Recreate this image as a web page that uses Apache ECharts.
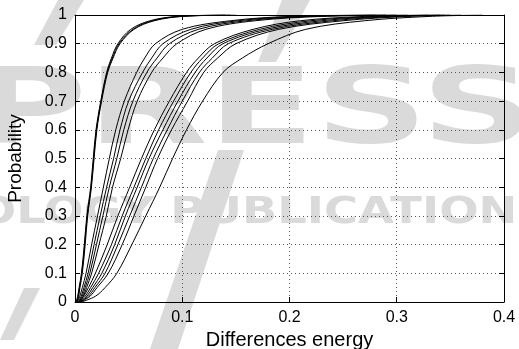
<!DOCTYPE html>
<html>
<head>
<meta charset="utf-8">
<script src="https://cdn.jsdelivr.net/npm/echarts@6/dist/echarts.min.js"></script>
<style>
  html, body { margin: 0; padding: 0; background: #fff; }
  #chart { width: 519px; height: 349px; }
</style>
</head>
<body>
<div id="chart"></div>
<script>
// probability levels shared by every curve
const probLevels = [0, 0.02, 0.05, 0.1, 0.2, 0.3, 0.4, 0.5, 0.6, 0.7, 0.8, 0.85, 0.9, 0.95, 0.98, 0.995, 1]

// difference energy reached at each probability level
const curveA1 = [0.001, 0.0025, 0.0038, 0.006, 0.0087, 0.011, 0.0146, 0.017, 0.0196, 0.024, 0.0295, 0.034, 0.040, 0.052, 0.070, 0.095, 0.14]
const curveA2 = [0.0015, 0.003, 0.0042, 0.0064, 0.009, 0.0114, 0.015, 0.0174, 0.020, 0.0244, 0.030, 0.0348, 0.041, 0.054, 0.072, 0.098, 0.145]
const curveA3 = [0.002, 0.0034, 0.0046, 0.0068, 0.0095, 0.0118, 0.0153, 0.0178, 0.0204, 0.0248, 0.0305, 0.0355, 0.042, 0.055, 0.074, 0.10, 0.15]
const curveB1 = [0.002, 0.0045, 0.0068, 0.0103, 0.0155, 0.021, 0.0265, 0.032, 0.038, 0.046, 0.0575, 0.065, 0.075, 0.10, 0.145, 0.20, 0.28]
const curveB2 = [0.003, 0.0058, 0.0083, 0.0122, 0.0178, 0.0235, 0.0295, 0.036, 0.042, 0.050, 0.063, 0.0715, 0.082, 0.108, 0.152, 0.21, 0.29]
const curveB3 = [0.0035, 0.0068, 0.0095, 0.0138, 0.020, 0.026, 0.032, 0.039, 0.0455, 0.054, 0.067, 0.0765, 0.088, 0.115, 0.16, 0.22, 0.30]
const curveB4 = [0.004, 0.0078, 0.0108, 0.0155, 0.0224, 0.0292, 0.035, 0.0426, 0.0495, 0.058, 0.0715, 0.082, 0.095, 0.122, 0.168, 0.23, 0.31]
const curveC1 = [0.003, 0.008, 0.0125, 0.019, 0.030, 0.040, 0.051, 0.062, 0.074, 0.088, 0.104, 0.115, 0.130, 0.166, 0.21, 0.27, 0.33]
const curveC2 = [0.0035, 0.0095, 0.0145, 0.022, 0.034, 0.044, 0.055, 0.066, 0.078, 0.092, 0.108, 0.119, 0.134, 0.172, 0.22, 0.28, 0.34]
const curveC3 = [0.004, 0.011, 0.0165, 0.025, 0.037, 0.047, 0.058, 0.069, 0.082, 0.096, 0.112, 0.123, 0.138, 0.178, 0.23, 0.29, 0.345]
const curveC4 = [0.0045, 0.0125, 0.0185, 0.028, 0.040, 0.051, 0.062, 0.073, 0.086, 0.100, 0.116, 0.128, 0.143, 0.184, 0.24, 0.30, 0.35]
const curveC5 = [0.005, 0.014, 0.0205, 0.031, 0.044, 0.055, 0.066, 0.077, 0.090, 0.105, 0.120, 0.133, 0.150, 0.190, 0.25, 0.31, 0.36]
const curveE = [0.006, 0.019, 0.028, 0.039, 0.053, 0.066, 0.079, 0.091, 0.104, 0.119, 0.138, 0.156, 0.180, 0.215, 0.27, 0.33, 0.38]

const curves = [curveA1, curveA2, curveA3, curveB1, curveB2, curveB3, curveB4,
  curveC1, curveC2, curveC3, curveC4, curveC5, curveE]

const font = 'Liberation Sans, Arial, sans-serif'
const wmColor = '#dadada'

const chart = echarts.init(document.getElementById('chart'))

const axisCommon = {
  type: 'value',
  axisLine: { show: true, onZero: false, lineStyle: { color: '#000', width: 1 } },
  axisTick: { show: true, inside: true, length: 5, lineStyle: { color: '#000' } }
}

chart.setOption({
  animation: false,
  backgroundColor: '#fff',
  textStyle: { fontFamily: font },
  graphic: [
    // faint publisher watermark behind the plot
    { type: 'polygon', z: -10, shape: { points: [[282, 0], [310, 0], [276, 62], [258, 62]] }, style: { fill: wmColor } },
    { type: 'polygon', z: -10, shape: { points: [[218, 150], [244, 150], [178, 349], [150, 349]] }, style: { fill: wmColor } },
    { type: 'polygon', z: -10, shape: { points: [[58, 0], [84, 0], [56, 45], [34, 45]] }, style: { fill: wmColor } },
    { type: 'polygon', z: -10, shape: { points: [[24, 288], [40, 288], [14, 340], [0, 340]] }, style: { fill: wmColor } },
    {
      type: 'text', z: -10, left: -28, top: 62, scaleX: 1.48,
      style: { text: 'PRESS', font: 'bold 106px DejaVu Sans', fill: wmColor }
    },
    {
      type: 'text', z: -10, left: -62, top: 194, scaleX: 1.22,
      style: { text: 'NOLOGY PUBLICATIONS', font: 'bold 38px DejaVu Sans', fill: wmColor }
    }
  ],
  grid: { left: 75, right: 15, top: 15, bottom: 47, outerBoundsMode: 'none', containLabel: false },
  xAxis: [
    Object.assign({}, axisCommon, {
      min: 0, max: 0.4, interval: 0.1,
      name: 'Differences energy', nameLocation: 'middle', nameGap: 23,
      nameTextStyle: { fontSize: 20, color: '#000', fontFamily: font },
      axisLabel: { margin: 8, fontSize: 16, color: '#000', fontFamily: font },
      splitLine: { show: true, lineStyle: { color: '#555', type: [1, 3], width: 1 } }
    }),
    Object.assign({}, axisCommon, {
      position: 'top', min: 0, max: 0.4, interval: 0.1,
      axisLabel: { show: false }, splitLine: { show: false }
    })
  ],
  yAxis: [
    Object.assign({}, axisCommon, {
      min: 0, max: 1, interval: 0.1,
      name: 'Probability', nameLocation: 'middle', nameGap: 50,
      nameTextStyle: { fontSize: 19, color: '#000', fontFamily: font },
      axisLabel: { margin: 8, fontSize: 16, color: '#000', fontFamily: font },
      splitLine: { show: true, lineStyle: { color: '#555', type: [1, 3], width: 1 } }
    }),
    Object.assign({}, axisCommon, {
      position: 'right', min: 0, max: 1, interval: 0.1,
      axisLabel: { show: false }, splitLine: { show: false }
    })
  ],
  series: curves.map(xs => ({
    type: 'line',
    data: xs.map((x, i) => [x, probLevels[i]]),
    showSymbol: false,
    smooth: 0.35,
    clip: true,
    lineStyle: { color: '#000', width: 1 },
    silent: true
  }))
})
</script>
</body>
</html>
